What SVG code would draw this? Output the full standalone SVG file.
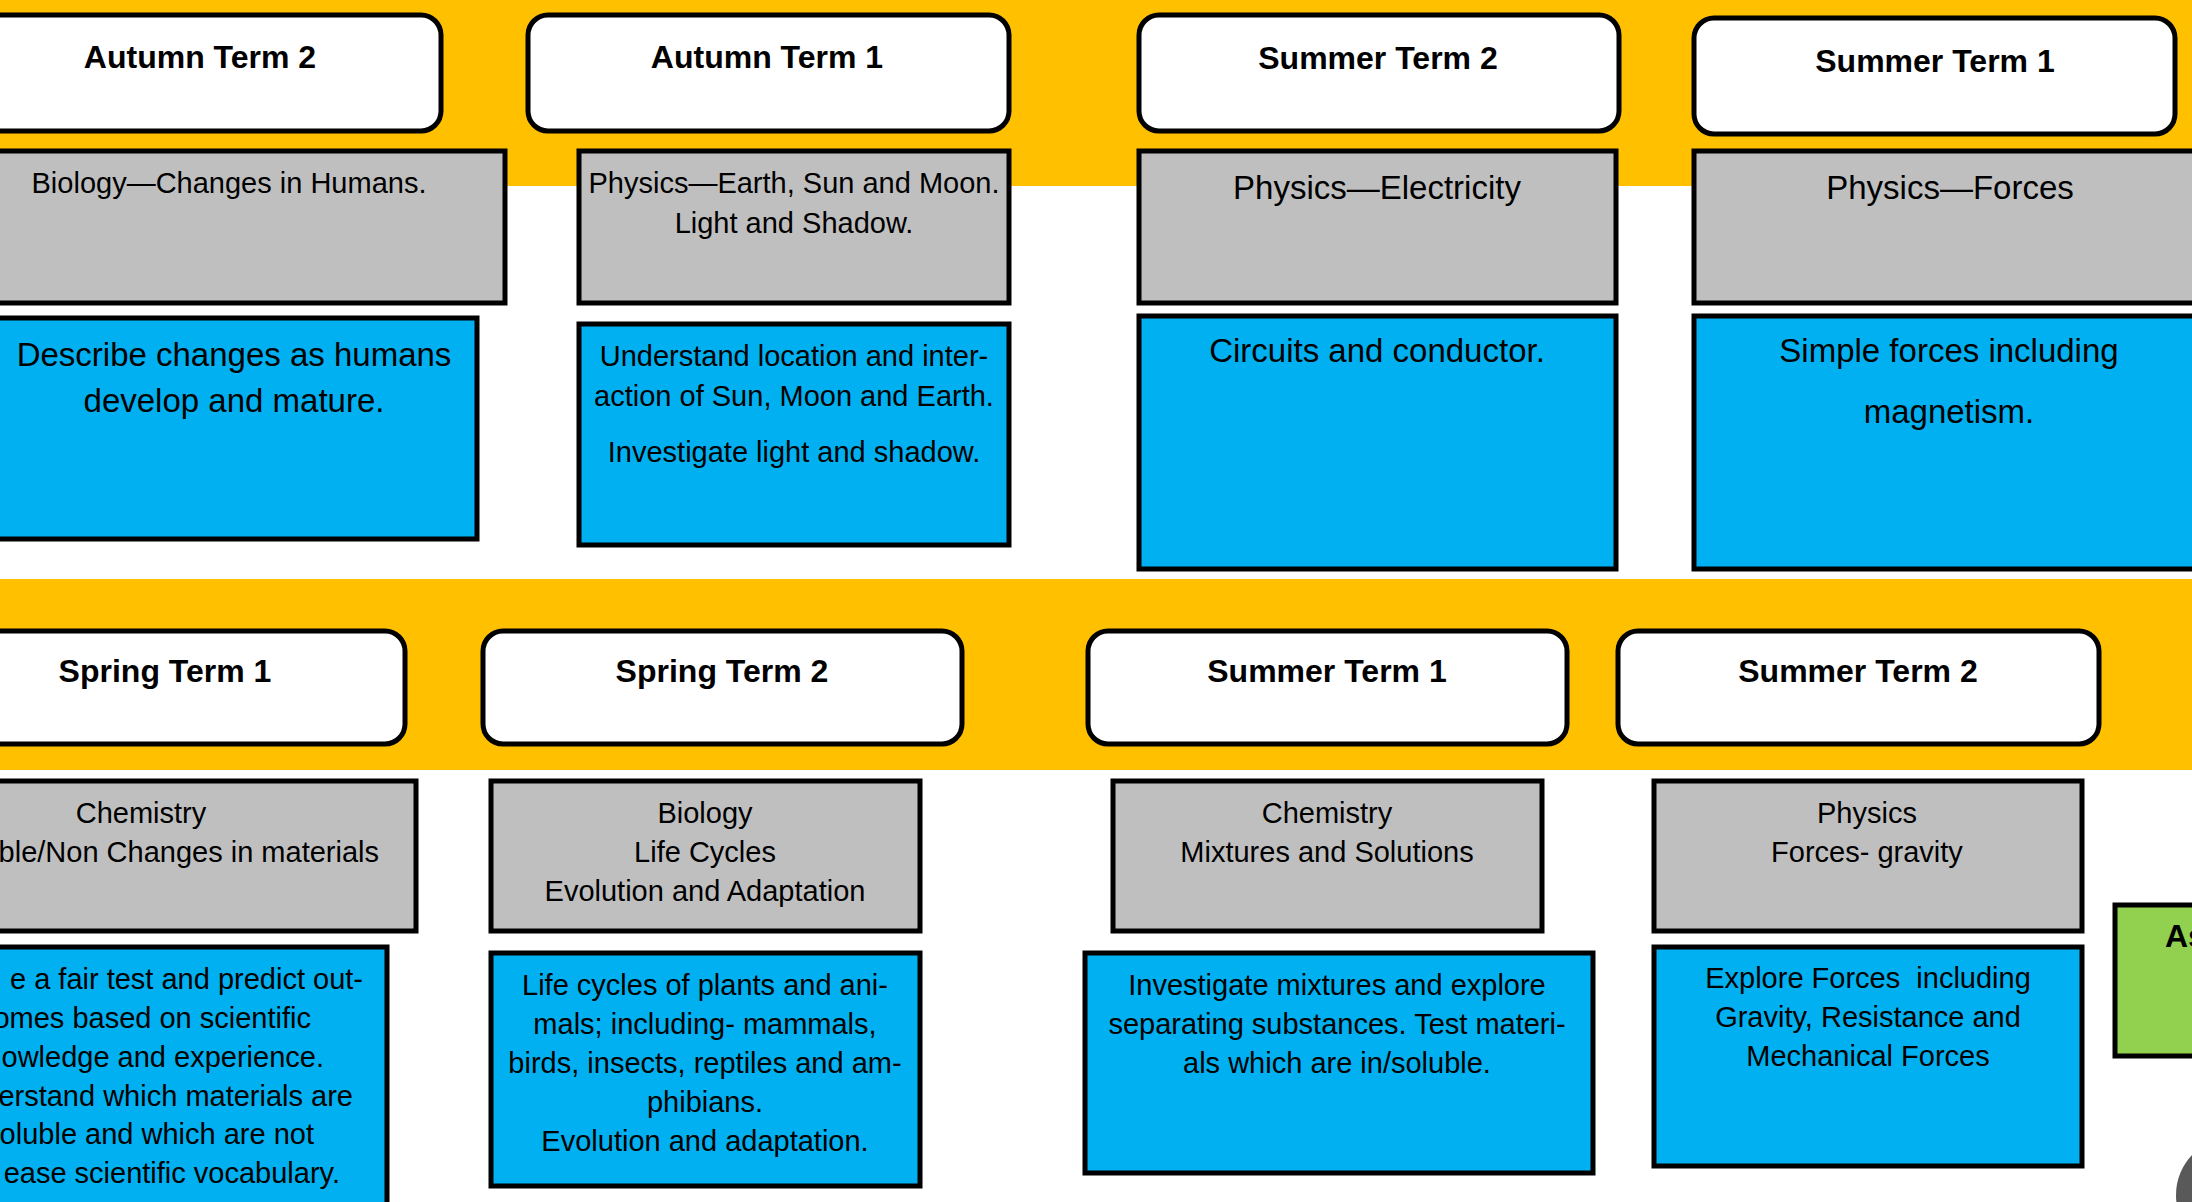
<svg xmlns="http://www.w3.org/2000/svg" width="2192" height="1202" viewBox="0 0 2192 1202">
<style>
  .band { fill: #FFC000; }
  .hdr { fill: #FFFFFF; stroke: #000; stroke-width: 5; }
  .grey { fill: #BFBFBF; stroke: #000; stroke-width: 5; }
  .blue { fill: #00B0F0; stroke: #000; stroke-width: 5; }
  .green { fill: #92D050; stroke: #000; stroke-width: 5; }
  text { font-family: "Liberation Sans", Arial, sans-serif; fill: #000; }
  .ht { font-weight: bold; font-size: 32px; text-anchor: middle; }
  .t { font-size: 29px; text-anchor: middle; }
  .tb { font-size: 33px; text-anchor: middle; }
  .tr { font-size: 29px; text-anchor: end; }
</style>
<rect width="2192" height="1202" fill="#FFFFFF"/>
<rect class="band" x="0" y="0" width="2192" height="186"/>
<rect class="band" x="0" y="579" width="2192" height="191"/>

<g id="autumn2">
  <rect class="hdr" x="-30" y="15" width="471" height="116" rx="20"/>
  <text class="ht" x="200" y="68">Autumn Term 2</text>
  <rect class="grey" x="-10" y="151" width="515" height="152"/>
  <text class="t" x="229" y="193">Biology—Changes in Humans.</text>
  <rect class="blue" x="-10" y="318" width="487" height="221"/>
  <text class="tb" x="234" y="366">Describe changes as humans</text>
  <text class="tb" x="234" y="412">develop and mature.</text>
</g>

<g id="autumn1">
  <rect class="hdr" x="528" y="15" width="481" height="116" rx="20"/>
  <text class="ht" x="767" y="68">Autumn Term 1</text>
  <rect class="grey" x="579" y="151" width="430" height="152"/>
  <text class="t" x="794" y="193">Physics—Earth, Sun and Moon.</text>
  <text class="t" x="794" y="233">Light and Shadow.</text>
  <rect class="blue" x="579" y="324" width="430" height="221"/>
  <text class="t" x="794" y="366">Understand location and inter-</text>
  <text class="t" x="794" y="406">action of Sun, Moon and Earth.</text>
  <text class="t" x="794" y="462">Investigate light and shadow.</text>
</g>

<g id="summer2-top">
  <rect class="hdr" x="1139" y="15" width="480" height="116" rx="20"/>
  <text class="ht" x="1378" y="69">Summer Term 2</text>
  <rect class="grey" x="1139" y="151" width="477" height="152"/>
  <text class="tb" x="1377" y="199">Physics—Electricity</text>
  <rect class="blue" x="1139" y="316" width="477" height="253"/>
  <text class="tb" x="1377" y="362">Circuits and conductor.</text>
</g>

<g id="summer1-top">
  <rect class="hdr" x="1694" y="18" width="481" height="116" rx="20"/>
  <text class="ht" x="1935" y="72">Summer Term 1</text>
  <rect class="grey" x="1694" y="151" width="520" height="152"/>
  <text class="tb" x="1950" y="199">Physics—Forces</text>
  <rect class="blue" x="1694" y="316" width="520" height="253"/>
  <text class="tb" x="1949" y="362">Simple forces including</text>
  <text class="tb" x="1949" y="423">magnetism.</text>
</g>

<g id="spring1">
  <rect class="hdr" x="-30" y="631" width="435" height="113" rx="20"/>
  <text class="ht" x="165" y="682">Spring Term 1</text>
  <rect class="grey" x="-10" y="781" width="426" height="150"/>
  <text class="t" x="141" y="823">Chemistry</text>
  <text class="tr" x="379" y="862">ble/Non Changes in materials</text>
  <rect class="blue" x="-10" y="947" width="397" height="270"/>
  <text class="tr" x="363" y="989">e a fair test and predict out-</text>
  <text class="tr" x="311" y="1028">omes based on scientific</text>
  <text class="tr" x="324" y="1067">owledge and experience.</text>
  <text class="tr" x="353" y="1106">erstand which materials are</text>
  <text class="tr" x="314" y="1144">oluble and which are not</text>
  <text class="tr" x="340" y="1183">ease scientific vocabulary.</text>
</g>

<g id="spring2">
  <rect class="hdr" x="483" y="631" width="479" height="113" rx="20"/>
  <text class="ht" x="722" y="682">Spring Term 2</text>
  <rect class="grey" x="491" y="781" width="429" height="150"/>
  <text class="t" x="705" y="823">Biology</text>
  <text class="t" x="705" y="862">Life Cycles</text>
  <text class="t" x="705" y="901">Evolution and Adaptation</text>
  <rect class="blue" x="491" y="953" width="429" height="233"/>
  <text class="t" x="705" y="995">Life cycles of plants and ani-</text>
  <text class="t" x="705" y="1034">mals; including- mammals,</text>
  <text class="t" x="705" y="1073">birds, insects, reptiles and am-</text>
  <text class="t" x="705" y="1112">phibians.</text>
  <text class="t" x="705" y="1151">Evolution and adaptation.</text>
</g>

<g id="summer1-bottom">
  <rect class="hdr" x="1088" y="631" width="479" height="113" rx="20"/>
  <text class="ht" x="1327" y="682">Summer Term 1</text>
  <rect class="grey" x="1113" y="781" width="429" height="150"/>
  <text class="t" x="1327" y="823">Chemistry</text>
  <text class="t" x="1327" y="862">Mixtures and Solutions</text>
  <rect class="blue" x="1085" y="953" width="508" height="220"/>
  <text class="t" x="1337" y="995">Investigate mixtures and explore</text>
  <text class="t" x="1337" y="1034">separating substances. Test materi-</text>
  <text class="t" x="1337" y="1073">als which are in/soluble.</text>
</g>

<g id="summer2-bottom">
  <rect class="hdr" x="1618" y="631" width="481" height="113" rx="20"/>
  <text class="ht" x="1858" y="682">Summer Term 2</text>
  <rect class="grey" x="1654" y="781" width="428" height="150"/>
  <text class="t" x="1867" y="823">Physics</text>
  <text class="t" x="1867" y="862">Forces- gravity</text>
  <rect class="blue" x="1654" y="947" width="428" height="219"/>
  <text class="t" x="1868" y="988" style="white-space:pre">Explore Forces  including</text>
  <text class="t" x="1868" y="1027">Gravity, Resistance and</text>
  <text class="t" x="1868" y="1066">Mechanical Forces</text>
</g>

<g id="assessment">
  <rect class="green" x="2115" y="905" width="100" height="151"/>
  <text x="2165" y="947" style="font-weight:bold;font-size:32px">As</text>
</g>

<g id="corner-circle">
  <circle cx="2234" cy="1195" r="58" fill="#595959"/>
</g>

<g id="connectors"></g>
</svg>
